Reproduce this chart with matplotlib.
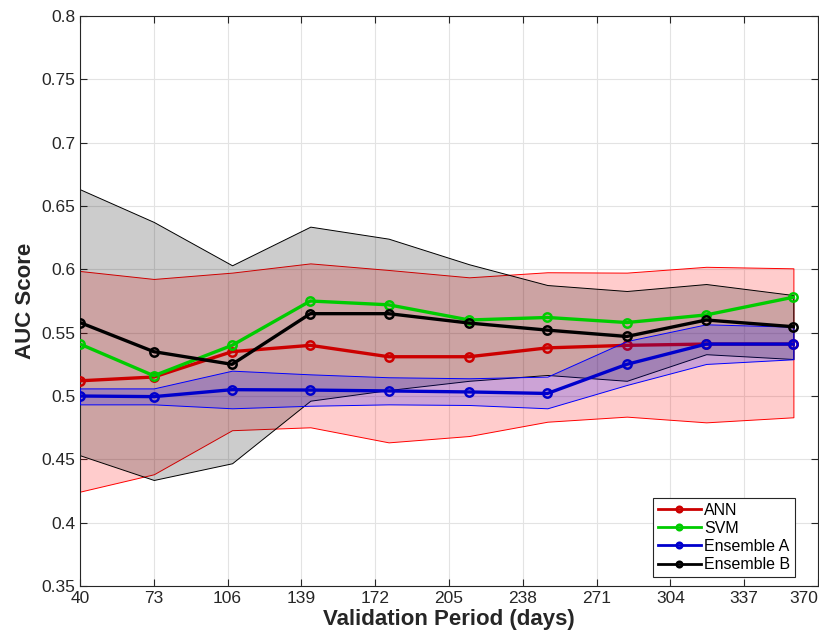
import numpy as np
import matplotlib
matplotlib.use('Agg')
import matplotlib.pyplot as plt

plt.rcParams['font.family'] = ['Liberation Sans', 'DejaVu Sans']

# validation period (days) for each run
days = [40, 73, 108, 143, 178, 214, 249, 284.5, 320, 359]

# mean AUC per model
ann = [0.512, 0.515, 0.535, 0.540, 0.531, 0.531, 0.538, 0.540, 0.541, 0.541]
svm = [0.541, 0.516, 0.540, 0.575, 0.572, 0.560, 0.562, 0.558, 0.564, 0.578]
ens_a = [0.500, 0.4995, 0.505, 0.5047, 0.504, 0.5032, 0.502, 0.525, 0.541, 0.541]
ens_b = [0.558, 0.535, 0.525, 0.565, 0.565, 0.5576, 0.552, 0.547, 0.560, 0.5547]

# spread bands (upper / lower)
ann_hi = [0.5987, 0.5924, 0.5974, 0.6047, 0.5995, 0.5937, 0.5977, 0.5974, 0.602, 0.6008]
ann_lo = [0.4245, 0.4382, 0.473, 0.4753, 0.4634, 0.4684, 0.4797, 0.4837, 0.4792, 0.4832]
a_hi = [0.506, 0.506, 0.520, 0.5171, 0.5148, 0.514, 0.5153, 0.5434, 0.5566, 0.5547]
a_lo = [0.4934, 0.4934, 0.4903, 0.4923, 0.4934, 0.4929, 0.4903, 0.5087, 0.5253, 0.529]
b_hi = [0.6632, 0.6374, 0.6032, 0.6337, 0.6242, 0.604, 0.5876, 0.5829, 0.5884, 0.5797]
b_lo = [0.4532, 0.4337, 0.4469, 0.4963, 0.5047, 0.512, 0.5166, 0.512, 0.533, 0.5292]

fig = plt.figure(figsize=(8.19, 6.43), dpi=100)
ax = fig.add_axes([80 / 819, 57 / 643, 738 / 819, 570 / 643])

# shaded bands, MATLAB-like transparent patches
ax.fill_between(days, ann_lo, ann_hi, facecolor=(1, 0, 0, 0.2), edgecolor='red', lw=0.7, zorder=1)
ax.fill_between(days, b_lo, b_hi, facecolor=(0, 0, 0, 0.2), edgecolor='black', lw=0.7, zorder=2)

mk = dict(marker='o', markersize=6, markerfacecolor='none', markeredgewidth=1.8, lw=2.4)
ax.plot(days, ann, color=(0.8, 0, 0), label='ANN', zorder=3, **mk)
ax.fill_between(days, a_lo, a_hi, facecolor=(0, 0, 1, 0.2), edgecolor='blue', lw=0.7, zorder=4)
ax.plot(days, svm, color=(0, 0.8, 0), label='SVM', zorder=6, **mk)
ax.plot(days, ens_a, color=(0, 0, 0.8), label='Ensemble A', zorder=5, **mk)
ax.plot(days, ens_b, color='black', label='Ensemble B', zorder=7, **mk)

ax.set_xlim(40, 370)
ax.set_ylim(0.35, 0.8)
ax.set_xticks(np.arange(40, 371, 33))
yt = np.round(np.arange(0.35, 0.8001, 0.05), 2)
ax.set_yticks(yt)
ax.set_yticklabels(['%g' % v for v in yt])
ax.tick_params(direction='in', labelsize=12.5, length=5, width=0.8, top=True, right=True,
               labelcolor='#262626', color='#262626')
# keep the last x label inside the figure
ax.get_xticklabels()[-1].set_ha('right')
ax.grid(True, color='#e3e3e3', lw=0.8, zorder=0)
ax.set_axisbelow(True)
for s in ax.spines.values():
    s.set_color('#262626')
    s.set_linewidth(0.8)

ax.set_xlabel('Validation Period (days)', fontsize=16, fontweight='bold', color='#262626', labelpad=2)
ax.set_ylabel('AUC Score', fontsize=16, fontweight='bold', color='#262626', labelpad=4)

leg = ax.legend(loc='lower right', bbox_to_anchor=(795 / 819, 66 / 643),
                bbox_transform=fig.transFigure, fontsize=11.5, fancybox=False,
                framealpha=1, edgecolor='#262626', borderaxespad=0, handlelength=2.7,
                handletextpad=0.2, borderpad=0.3, labelspacing=0.2)
leg.get_frame().set_linewidth(0.8)
for h in leg.get_lines():
    h.set_markersize(4)
    h.set_linewidth(2)
leg.set_zorder(10)

fig.savefig('out.png', dpi=100)
